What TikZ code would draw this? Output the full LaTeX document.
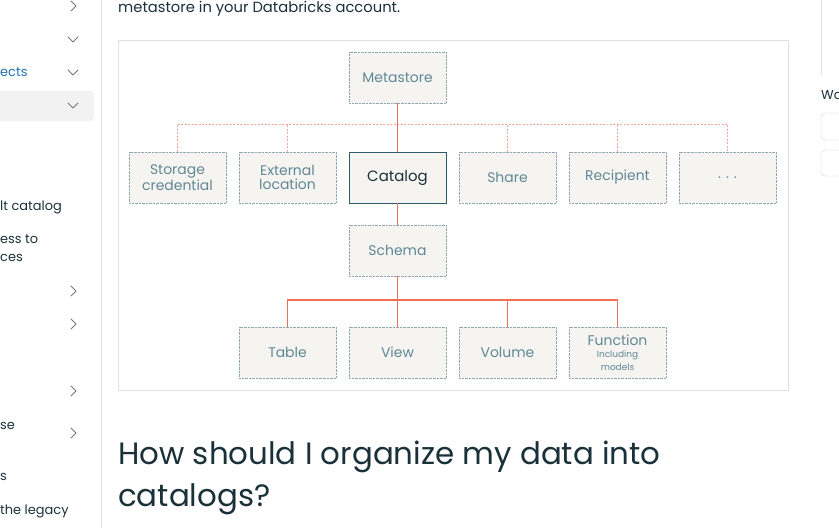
\documentclass[tikz,border=0pt]{standalone}
\usepackage{fontspec}
\setmainfont{Poppins}
\definecolor{boxfill}{HTML}{F6F4F1}
\definecolor{boxedge}{HTML}{8FA7B0}
\definecolor{boxtext}{HTML}{5F8795}
\definecolor{catedge}{HTML}{2F5B68}
\definecolor{link}{HTML}{EE6E57}
\definecolor{linkdash}{HTML}{F5A596}
\definecolor{ink}{HTML}{1B3139}
\definecolor{navblue}{HTML}{2272B4}
\definecolor{chev}{HTML}{6F7880}
\definecolor{rule}{HTML}{E3E3E3}
\begin{document}
\begin{tikzpicture}[x=1bp,y=-1bp,
  obj/.style={draw=boxedge, densely dotted, fill=boxfill, minimum width=97bp, minimum height=51bp,
    inner sep=0pt, text=boxtext, font=\fontsize{14}{14}\selectfont, align=center},
  cat/.style={obj, solid, draw=catedge, line width=0.9pt, text=ink},
  solidlink/.style={draw=link, line width=1.4pt},
  dashlink/.style={draw=linkdash, dash pattern=on 2pt off 1.5pt, line width=0.8pt},
  chevron/.style={draw=chev, line width=1pt, line cap=round, line join=round},
  navtext/.style={anchor=base west, inner sep=0pt, text=ink, font=\fontsize{13}{16}\selectfont}]
\useasboundingbox (0,0) rectangle (839,528);
\fill[white] (0,0) rectangle (839,528);
% sidebar
\fill[black!5, rounded corners=4pt] (-8,91) rectangle (94,121);
\draw[rule, line width=1pt] (101,0) -- (101,528);
\draw[chevron] (71,1) -- (76,6) -- (71,11);
\draw[chevron] (68,37) -- (73,42) -- (78,37);
\draw[chevron] (68,70) -- (73,75) -- (78,70);
\draw[chevron] (68,103) -- (73,108) -- (78,103);
\draw[chevron] (71,286) -- (76,291) -- (71,296);
\draw[chevron] (71,319) -- (76,324) -- (71,329);
\draw[chevron] (71,386) -- (76,391) -- (71,396);
\draw[chevron] (71,428) -- (76,433) -- (71,438);
\node[navtext, text=navblue] (n1) at (0,77) {ects};
\node[navtext] (n2) at (0,211) {lt catalog};
\node[navtext] (n3) at (0,244) {ess to};
\node[navtext] (n4) at (0,262) {ces};
\node[navtext] (n5) at (0,429) {se};
\node[navtext] (n6) at (0,480) {s};
\node[navtext] (n7) at (0,514) {the legacy};
% right column
\draw[rule, line width=1pt] (821,0) -- (821,75);
\node[navtext] (wa) at (821,100) {Wa};
\draw[black!18, rounded corners=4pt] (821,113) rectangle (860,140);
\draw[black!18, rounded corners=4pt] (821,150) rectangle (860,176);
% texts
\node[anchor=base west, inner sep=0pt, text=ink, font=\fontsize{14.8}{18}\selectfont] (intro) at (118,13) {metastore in your Databricks account.};
\node[anchor=base west, inner sep=0pt, text=ink, font=\fontsize{31}{42}\selectfont] (h1) at (118,464) {How should I organize my data into};
\node[anchor=base west, inner sep=0pt, text=ink, font=\fontsize{31}{42}\selectfont] (h2) at (118,506) {catalogs?};
% frame
\draw[black!12, line width=0.8pt] (118.5,40.5) rectangle (788.5,390.5);
% nodes
\node[obj] (meta) at (397.5,77.5) {Metastore};
\node[obj] (stor) at (177.5,177.5) {Storage\\credential};
\node[obj] (ext) at (287.5,177.5) {External\\location};
\node[cat] (cat) at (397.5,177.5) {\fontsize{15}{15}\selectfont Catalog};
\node[obj] (share) at (507.5,177.5) {Share};
\node[obj] (recip) at (617.5,177.5) {Recipient};
\node[obj] (more) at (727.5,177.5) {. . .};
\node[obj] (schema) at (397.5,250.5) {Schema};
\node[obj] (table) at (287.5,352.5) {Table};
\node[obj] (view) at (397.5,352.5) {View};
\node[obj] (vol) at (507.5,352.5) {Volume};
\node[obj] (func) at (617.5,352.5) {Function\\[-2pt]{\fontsize{9}{10}\selectfont Including}\\[-1pt]{\fontsize{9}{10}\selectfont models}};
% connectors
\coordinate (dashbar) at (0,124);
\coordinate (solidbar) at (0,300);
\draw[dashlink] (stor.north) |- (dashbar -| more.north) -- (more.north);
\draw[dashlink] (ext.north) -- (ext.north |- dashbar);
\draw[dashlink] (share.north) -- (share.north |- dashbar);
\draw[dashlink] (recip.north) -- (recip.north |- dashbar);
\draw[solidlink] (meta.south) -- (cat.north);
\draw[solidlink] (cat.south) -- (schema.north);
\draw[solidlink] (schema.south) -- (view.north);
\draw[solidlink] (table.north) |- (solidbar -| func.north) -- (func.north);
\draw[solidlink] (vol.north) -- (vol.north |- solidbar);
\end{tikzpicture}
\end{document}
